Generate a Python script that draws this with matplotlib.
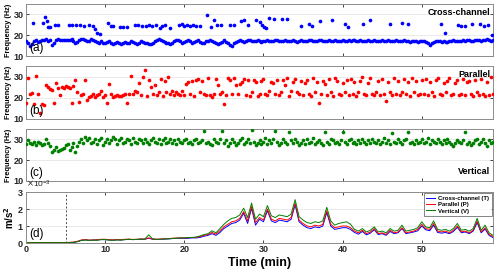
import numpy as np
import matplotlib
matplotlib.use('Agg')
import matplotlib.pyplot as plt

plt.rcParams['font.family'] = ['Liberation Sans', 'DejaVu Sans']

# sampling step of the dense series (min)
step_freq = 0.25
step_acc = 0.5

# (a) cross-channel, lower band
cross_low = [17, 16.5, 15, 16, 17, 17.5, 16.8, 17.2, 17.8, 17.5, 18, 17, 17.5, 15.2, 16.5, 17.8, 18, 17.5, 17.8, 17.6,
             17.5, 17.8, 17.6, 18, 17.2, 16.5, 16.8, 17.5, 18, 18.2, 17.8, 17, 17.4, 18.3, 17.6, 17.2, 16.8, 16.5, 17, 16.5,
             16.2, 16.8, 17.2, 16.5, 16, 16.4, 16.8, 16.3, 16, 16.5, 16.8, 16.2, 16.5, 17, 16.8, 16.3, 16, 16.5, 17, 16.6,
             16.2, 16.5, 16, 15.8, 16.5, 17.2, 17.5, 18, 17.8, 17.2, 16.8, 16.2, 16.5, 16, 16.5, 17, 17.5, 17.8, 17.2, 16.5,
             16.8, 17.2, 17.6, 17, 16.4, 16.8, 17.2, 17.5, 16.8, 16.3, 16.5, 17, 17.4, 17.8, 17.2, 16.8, 16.2, 15.8, 16.2, 16.8,
             17.5, 16.8, 16.3, 15.5, 15, 16.2, 16.8, 17.4, 17.8, 17.2, 16.8, 17.2, 17.5, 17.6, 17.2, 17, 17.3, 17.5, 17.2, 16.9,
             17.1, 17.4, 17.6, 17.2, 17, 17.3, 17.5, 17.8, 17.4, 17.1, 17.3, 17.6, 17.2, 17, 17.4, 17.5, 17.2, 16.9, 17.2, 17.5,
             17.3, 17, 17.2, 17.5, 17.6, 17.3, 17.1, 17.4, 17.6, 17.5, 17.2, 17.4, 17.3, 17.5, 17.2, 17.4, 17.6, 17.3, 17.1, 17.4,
             17.5, 17.2, 17.4, 17.6, 17.3, 17.5, 17.8, 17.4, 17.2, 17.5, 17.4, 17.1, 17.3, 17.6, 17.4, 17.2, 17.5, 17.3, 17.1, 17.4,
             17.6, 17.3, 17.2, 17.5, 17.4, 17.1, 17.3, 17.6, 17.2, 17, 17.3, 17.5, 17.2, 17, 16.8, 17.1, 17.3, 17.2, 16.9, 17.1,
             17.3, 17, 16.8, 16.4, 15.5, 16.2, 16.8, 17.2, 17.4, 17, 16.8, 17.1, 16.9, 16.7, 17, 17.2, 17.5, 17.3, 17, 17.2,
             17.4, 17.6, 17.3, 17.5, 17.7, 17.4, 17.2, 17.5, 17.8, 17.6, 17.4, 17.5, 17.7, 18, 17.5, 17.2, 17.6]

# (a) cross-channel, upper band (time, freq)
cross_up_t = [0.9, 2.1, 2.4, 2.7, 2.8, 3.0, 3.7, 4.1, 5.4, 5.8, 6.3, 6.8, 7.3, 7.9, 8.5, 8.7, 9.0, 9.4,
              10.4, 10.8, 11.0, 11.9, 12.3, 12.7, 13.8, 14.2, 14.6, 15.1, 15.5, 15.9, 16.4, 16.9, 17.2, 17.6, 18.2,
              19.3, 19.7, 19.9, 20.3, 20.7, 21.1, 21.5, 22.0, 22.9, 23.4, 23.7, 24.1, 24.6, 25.8, 26.3, 27.1, 27.5,
              28.0, 29.0, 29.5, 29.8, 30.1, 30.3, 30.7, 31.3, 32.4, 33.0, 34.7, 35.8, 36.1, 37.1, 38.6, 40.3, 40.7,
              42.6, 43.5, 46.0, 47.5, 48.2, 52.4, 52.9, 54.6, 54.9, 55.5, 56.4, 57.4, 57.9, 58.4, 58.9]
cross_up_f = [25.9, 25.9, 28.9, 26.7, 24, 24, 25, 25, 25, 25, 25, 25, 24.5, 25, 24.5, 23, 21, 20.5,
              25.9, 24.6, 24.6, 24.2, 24.2, 24.2, 25, 25, 24.5, 24.5, 25, 24.5, 25, 23.5, 24.5, 25, 23.6,
              25, 25.5, 24.5, 25, 24.5, 25, 24.5, 24.5, 29.7, 24.2, 27.2, 25, 25, 25, 25, 26.7, 27.2,
              25, 27.2, 26.2, 25, 24, 23.4, 28.4, 27.9, 27.9, 27.9, 24.6, 25.5, 24.3, 26.7, 27.5, 25.5, 24,
              25.5, 27.5, 25.5, 25.8, 25.5, 25.5, 21, 25, 24.5, 24.5, 25.5, 25.5, 24.5, 25, 20.2]

# (b) parallel
parallel = [17.5, 29.5, 22, 22.3, 17, 30.5, 22, 13, 17, 16.5, 26, 25, 24, 23.5, 17.5, 27, 24.5, 21.5, 25, 24.8,
            25.5, 25, 24.5, 17.5, 25.5, 28.5, 22.5, 18, 21.5, 22, 28.5, 19, 20.5, 21, 22, 20.5, 21.5, 22, 23, 20.5,
            21.5, 17.5, 26.5, 22, 20.5, 21, 21.5, 20.8, 21, 21.5, 22, 17.5, 22, 30.5, 22, 23, 22.5, 27, 21.5, 30,
            33, 21, 28.5, 25, 22, 26, 21.5, 22.5, 29, 21, 28, 22.5, 30, 22, 23, 21.5, 22.5, 22, 21.5, 23,
            21.5, 26.5, 27.5, 22, 28, 21, 28.5, 29, 22.5, 28, 22, 21.5, 29.5, 21.5, 20.5, 22, 29, 26, 22, 22.5,
            17, 21.5, 29.5, 28.5, 22, 29.5, 26, 22, 26.5, 27.5, 29, 21.5, 28.5, 21, 22.5, 28.5, 27.5, 21, 22, 28,
            29, 22, 21.5, 23, 27.5, 27, 22, 28.5, 21.5, 22.5, 28.5, 26, 29.5, 21, 23, 27.5, 29, 22.5, 22, 28,
            21.5, 27, 28.5, 22, 21, 29.5, 22.5, 27.5, 17.5, 22, 28, 26.5, 21.5, 29, 22.5, 21, 29.5, 28, 22, 21.5,
            27, 22.5, 28.5, 21.5, 29, 22, 27.5, 21, 22.5, 28, 30, 22, 21.5, 27, 29.5, 22, 21.5, 22.5, 28, 21.5,
            29, 22, 18.5, 27.5, 22.5, 21.5, 29.5, 22, 28, 21.5, 22.5, 29, 22, 27.5, 21, 29.5, 22.5, 28, 21.5, 22,
            28.5, 22, 29, 21.5, 27.5, 22.5, 21, 28.5, 29.5, 22, 21.5, 27, 22.5, 28, 29.5, 21.5, 22, 27, 28.5, 21.5,
            22, 29, 21.5, 27.5, 28, 22, 21, 28.5, 22.5, 21.5, 29, 22, 21, 27.5, 21.5, 30, 22]

# (c) vertical
vertical = [28, 29.5, 28.5, 28, 29, 27.5, 29, 28.5, 27.5, 28, 30, 28.5, 27, 24, 25, 26.5, 24.5, 25, 25.5, 26,
            27.5, 28, 25, 26.5, 28.5, 24, 27, 29, 30, 28.5, 31, 29.5, 30.5, 28.5, 29, 30, 28, 29.5, 30.5, 27.5,
            29, 30, 28.5, 29.5, 31, 30, 28, 29.5, 30.5, 28.5, 29, 30, 29.5, 28, 30.5, 29, 28.5, 30, 29.5, 28.5,
            30, 29, 28, 29.5, 30.5, 29, 28.5, 30, 28, 29.5, 30.5, 28.5, 29, 30, 28.5, 29.5, 28, 30, 29, 28.5,
            29.5, 30, 28.5, 29, 28, 29.5, 30, 28.5, 29, 29.5, 34, 28.5, 29, 28, 27.5, 30, 29, 28.5, 30, 34,
            28.5, 29.5, 27, 28.5, 30, 29, 27.5, 28.5, 29.5, 30.5, 28, 29, 30, 28.5, 34.5, 29, 27.5, 28.5, 29.5, 28,
            29, 30.5, 28, 29.5, 28.5, 30, 34, 29, 27.5, 28.5, 30, 29, 28, 33.5, 29.5, 28.5, 30, 29, 27.5, 28.5,
            29.5, 28, 30, 28.5, 29, 30.5, 28, 29, 29.5, 28.5, 27.5, 33.5, 29, 28, 30, 29.5, 28.5, 29, 28, 29.5,
            33.5, 29, 28, 29.5, 30, 28.5, 29, 28, 29.5, 28.5, 30, 29, 28, 29.5, 28.5, 30, 29, 28.5, 29.5, 28,
            29, 30.5, 28.5, 29.5, 28, 33, 29, 28.5, 30, 29, 28, 29.5, 30, 33.5, 28.5, 29, 28, 29.5, 28.5, 29,
            30, 28.5, 29, 30.5, 28, 29.5, 29, 28.5, 30, 29, 28, 29.5, 28.5, 30, 29, 28, 27, 28.5, 29.5, 29,
            28.5, 29.5, 33.5, 28, 29, 27.5, 28.5, 29.5, 30, 28, 29, 30, 28.5, 27, 29.5, 28.5, 29]

# (d) acceleration, units of 1e-3 m/s^2
acc_T = [0.02, 0.02, 0.02, 0.02, 0.02, 0.02, 0.02, 0.02, 0.02, 0.02,
         0.02, 0.03, 0.04, 0.08, 0.16, 0.18, 0.16, 0.17, 0.18, 0.2,
         0.2, 0.18, 0.17, 0.19, 0.18, 0.2, 0.21, 0.2, 0.21, 0.22,
         0.22, 0.28, 0.22, 0.21, 0.22, 0.23, 0.24, 0.26, 0.27, 0.28,
         0.27, 0.28, 0.3, 0.3, 0.33, 0.4, 0.45, 0.55, 0.45, 0.62,
         0.85, 1.0, 1.15, 1.2, 1.35, 1.75, 1.15, 2.05, 1.05, 1.4,
         1.25, 1.9, 1.3, 1.2, 1.35, 1.3, 1.25, 1.4, 2.25, 1.25,
         1.05, 0.9, 0.85, 0.95, 0.9, 1.0, 1.8, 1.0, 0.8, 0.85,
         0.9, 0.9, 0.8, 0.62, 0.52, 0.68, 0.48, 0.58, 0.78, 0.5,
         0.55, 0.45, 0.68, 0.55, 0.6, 0.85, 0.55, 0.6, 0.65, 0.72,
         1.0, 0.78, 0.72, 1.05, 0.62, 0.58, 0.62, 0.55, 0.68, 0.92,
         0.6, 0.65, 0.55, 0.7, 1.2, 0.6, 0.82, 0.45, 0.32]
acc_P = [0.02, 0.03, 0.02, 0.03, 0.02, 0.03, 0.03, 0.02, 0.03, 0.03,
         0.03, 0.04, 0.05, 0.1, 0.18, 0.2, 0.17, 0.18, 0.19, 0.22,
         0.22, 0.19, 0.18, 0.2, 0.19, 0.22, 0.23, 0.21, 0.22, 0.24,
         0.23, 0.3, 0.23, 0.22, 0.23, 0.25, 0.26, 0.28, 0.29, 0.3,
         0.3, 0.31, 0.32, 0.33, 0.38, 0.45, 0.5, 0.62, 0.52, 0.72,
         0.95, 1.1, 1.25, 1.3, 1.45, 1.85, 1.3, 2.15, 1.2, 1.5,
         1.35, 2.0, 1.4, 1.3, 1.45, 1.4, 1.35, 1.5, 2.35, 1.35,
         1.15, 1.0, 0.95, 1.05, 1.0, 1.1, 1.9, 1.1, 0.9, 0.95,
         1.0, 1.0, 0.9, 0.7, 0.6, 0.75, 0.55, 0.65, 0.85, 0.55,
         0.6, 0.5, 0.75, 0.6, 0.65, 0.9, 0.6, 0.65, 0.7, 0.8,
         1.1, 0.85, 0.8, 1.15, 0.7, 0.65, 0.7, 0.6, 0.75, 1.0,
         0.65, 0.7, 0.6, 0.75, 1.3, 0.65, 0.9, 0.5, 0.38]
acc_V = [0.02, 0.02, 0.02, 0.02, 0.02, 0.02, 0.02, 0.02, 0.02, 0.02,
         0.02, 0.02, 0.03, 0.08, 0.15, 0.18, 0.15, 0.17, 0.16, 0.2,
         0.2, 0.17, 0.16, 0.18, 0.17, 0.2, 0.22, 0.2, 0.21, 0.23,
         0.22, 0.48, 0.24, 0.22, 0.22, 0.24, 0.25, 0.27, 0.28, 0.3,
         0.3, 0.32, 0.33, 0.35, 0.42, 0.5, 0.55, 0.72, 0.6, 0.85,
         1.1, 1.3, 1.45, 1.5, 1.65, 2.05, 1.5, 2.35, 1.4, 1.7,
         1.55, 2.2, 1.6, 1.5, 1.65, 1.6, 1.55, 1.7, 2.55, 1.55,
         1.35, 1.2, 1.15, 1.25, 1.2, 1.3, 2.1, 1.3, 1.05, 1.15,
         1.2, 1.25, 1.1, 0.8, 0.7, 0.85, 0.65, 0.75, 0.95, 0.65,
         0.7, 0.6, 0.85, 0.7, 0.75, 1.05, 0.7, 0.75, 0.8, 0.9,
         1.25, 0.95, 0.9, 1.3, 0.8, 0.75, 0.8, 0.7, 0.85, 1.15,
         0.75, 0.8, 0.7, 0.85, 1.45, 0.75, 1.05, 0.6, 0.45]

start_marker = 5  # dashed line (min)
xmax = 59


def times(vals, dt):
    return np.arange(len(vals)) * dt


def style_axis(ax, ylim, yticks):
    ax.set_xlim(0, xmax)
    ax.set_ylim(*ylim)
    ax.set_yticks(yticks)
    ax.set_xticks([0, 10, 20, 30, 40, 50])
    ax.tick_params(direction='in', length=2.5, width=0.6, top=True, right=True,
                   labelsize=6.5, pad=1.5, colors='0.15')
    for lab in ax.get_xticklabels() + ax.get_yticklabels():
        lab.set_fontweight('bold')
    for s in ax.spines.values():
        s.set_color('0.55')
        s.set_linewidth(0.7)
    ax.yaxis.grid(True, color='0.9', lw=0.6)
    ax.set_axisbelow(True)


fig = plt.figure(figsize=(5.0, 2.72), dpi=100)
L, W = 0.052, 0.934
ax_a = fig.add_axes([L, 0.794, W, 0.191])
ax_b = fig.add_axes([L, 0.5625, W, 0.195])
ax_c = fig.add_axes([L, 0.3346, W, 0.191])
ax_d = fig.add_axes([L, 0.1066, W, 0.1875])

ms = 7
ax_a.scatter(times(cross_low, step_freq), cross_low, s=ms, color='#0000ff', lw=0, zorder=3)
ax_a.scatter(cross_up_t, cross_up_f, s=ms, color='#0000ff', lw=0, zorder=3)
ax_b.scatter(times(parallel, step_freq), parallel, s=ms, color='#ff0000', lw=0, zorder=3)
ax_c.scatter(times(vertical, step_freq), vertical, s=ms, color='#008000', lw=0, zorder=3)

names = [(ax_a, 'Cross-channel', '(a)', 'top'), (ax_b, 'Parallel', '(b)', 'top'),
         (ax_c, 'Vertical', '(c)', 'bottom')]
for ax, name, tag, where in names:
    style_axis(ax, (10, 35), [10, 20, 30])
    ax.set_xticklabels([])
    ax.set_ylabel('Frequency (Hz)', fontsize=5.3, fontweight='bold', labelpad=1.5)
    ax.text(0.006, 0.04, tag, transform=ax.transAxes, fontsize=8.5, va='bottom', ha='left')
    if where == 'top':
        ax.text(0.994, 0.93, name, transform=ax.transAxes, fontsize=6.5, fontweight='bold',
                va='top', ha='right')
    else:
        ax.text(0.994, 0.1, name, transform=ax.transAxes, fontsize=6.5, fontweight='bold',
                va='bottom', ha='right')

td = times(acc_T, step_acc)
ax_d.plot(td, np.array(acc_T) * 1e-3, color='#0000ff', lw=0.7, label='Cross-channel (T)')
ax_d.plot(td, np.array(acc_P) * 1e-3, color='#ff0000', lw=0.7, label='Parallel (P)')
ax_d.plot(td, np.array(acc_V) * 1e-3, color='#008000', lw=0.7, label='Vertical (V)')
ax_d.axvline(start_marker, color='0.3', ls='--', lw=0.7, dashes=(2, 2))
style_axis(ax_d, (0, 3e-3), [0, 1e-3, 2e-3, 3e-3])
ax_d.ticklabel_format(axis='y', style='sci', scilimits=(0, 0), useMathText=True)
ax_d.yaxis.get_offset_text().set_fontsize(6)
ax_d.yaxis.get_offset_text().set_x(0.0)
ax_d.set_ylabel(r'm/s$^\mathbf{2}$', fontsize=7, fontweight='bold', labelpad=1)
ax_d.text(0.006, 0.06, '(d)', transform=ax_d.transAxes, fontsize=8.5, va='bottom', ha='left')
ax_d.set_xlabel('Time (min)', fontsize=9, fontweight='bold', labelpad=2)
leg = ax_d.legend(loc='upper right', fontsize=4.3, frameon=True, fancybox=False,
                  borderpad=0.35, handlelength=1.6, handletextpad=0.5, labelspacing=0.2,
                  borderaxespad=0.25)
leg.get_frame().set_edgecolor('0.3')
leg.get_frame().set_linewidth(0.6)
for t in leg.get_texts():
    t.set_fontweight('bold')

fig.savefig('out.png', dpi=100)
